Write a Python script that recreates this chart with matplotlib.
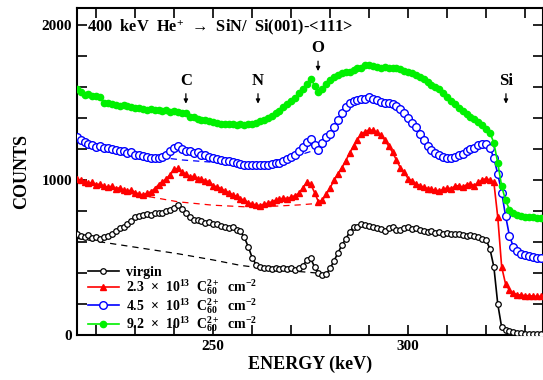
import numpy as np
import matplotlib
matplotlib.use("Agg")
from matplotlib import pyplot as plt
from matplotlib.ticker import MultipleLocator, FixedLocator

plt.rcParams['font.family'] = ['Liberation Serif', 'DejaVu Sans']
plt.rcParams['font.weight'] = 'bold'
plt.rcParams['mathtext.fontset'] = 'custom'
plt.rcParams['mathtext.rm'] = 'Liberation Serif:bold'
plt.rcParams['mathtext.it'] = 'Liberation Serif:bold'
plt.rcParams['mathtext.bf'] = 'Liberation Serif:bold'

# energy channels, keV
energy = np.arange(215, 335)

virgin = [650, 640, 630, 645, 625, 635, 620, 630, 640, 655,
          670, 690, 700, 720, 735, 760, 770, 775, 780, 775,
          785, 790, 785, 800, 810, 820, 840, 815, 790, 760,
          745, 740, 735, 725, 730, 720, 715, 705, 700, 690,
          700, 680, 670, 630, 570, 500, 455, 440, 430, 435,
          425, 430, 428, 435, 425, 430, 420, 430, 445, 485,
          495, 440, 400, 390, 395, 430, 480, 530, 580, 620,
          665, 700, 695, 715, 710, 705, 700, 690, 685, 670,
          690, 700, 680, 675, 690, 700, 685, 690, 680, 670,
          665, 670, 660, 665, 650, 660, 655, 650, 655, 645,
          640, 645, 640, 630, 620, 615, 555, 440, 200, 50,
          35, 25, 20, 15, 12, 10, 8, 7, 6, 5]

dose_23 = [1005, 1000, 990, 980, 985, 970, 975, 960, 955, 960,
           945, 950, 935, 930, 935, 920, 910, 905, 915, 925,
           945, 970, 990, 1010, 1035, 1070, 1075, 1050, 1040, 1020,
           1025, 1010, 1005, 995, 990, 965, 955, 945, 930, 920,
           905, 895, 880, 870, 855, 845, 840, 835, 845, 850,
           860, 870, 875, 885, 880, 890, 900, 915, 950, 985,
           975, 920, 860, 870, 910, 950, 1000, 1040, 1080, 1125,
           1175, 1220, 1260, 1300, 1310, 1325, 1320, 1310, 1290, 1260,
           1220, 1180, 1130, 1080, 1050, 1010, 995, 975, 965, 955,
           945, 940, 935, 930, 940, 950, 945, 960, 965, 955,
           970, 975, 965, 985, 1000, 1010, 1000, 985, 760, 440,
           330, 290, 270, 262, 258, 255, 255, 252, 250, 250]

dose_45 = [1280, 1260, 1245, 1230, 1225, 1215, 1220, 1205, 1210, 1200,
           1195, 1190, 1185, 1175, 1180, 1165, 1160, 1155, 1150, 1145,
           1140, 1140, 1150, 1165, 1185, 1210, 1220, 1200, 1185, 1190,
           1175, 1180, 1165, 1160, 1150, 1145, 1135, 1130, 1125, 1120,
           1115, 1110, 1105, 1100, 1100, 1095, 1095, 1095, 1100, 1100,
           1105, 1110, 1110, 1120, 1135, 1150, 1165, 1190, 1215, 1245,
           1265, 1225, 1195, 1240, 1275, 1300, 1345, 1390, 1430, 1470,
           1500, 1510, 1515, 1520, 1525, 1535, 1525, 1515, 1505, 1500,
           1495, 1490, 1480, 1460, 1430, 1400, 1370, 1340, 1300, 1260,
           1220, 1195, 1175, 1160, 1150, 1145, 1140, 1150, 1160, 1170,
           1185, 1200, 1210, 1225, 1235, 1230, 1210, 1140, 1040, 920,
           770, 640, 570, 545, 525, 515, 510, 505, 500, 500]

dose_92 = [1585, 1570, 1550, 1555, 1545, 1540, 1535, 1500, 1495, 1490,
           1485, 1480, 1485, 1475, 1470, 1465, 1465, 1460, 1455, 1460,
           1450, 1450, 1445, 1450, 1440, 1445, 1440, 1435, 1430, 1410,
           1405, 1395, 1390, 1385, 1380, 1375, 1370, 1365, 1365, 1360,
           1360, 1355, 1360, 1355, 1360, 1365, 1370, 1380, 1390, 1400,
           1415, 1430, 1445, 1470, 1490, 1510, 1530, 1560, 1590, 1620,
           1655, 1610, 1570, 1590, 1620, 1645, 1665, 1680, 1690, 1695,
           1700, 1710, 1720, 1725, 1740, 1745, 1735, 1730, 1725, 1730,
           1720, 1725, 1720, 1715, 1705, 1695, 1690, 1680, 1665, 1650,
           1630, 1615, 1600, 1585, 1560, 1535, 1510, 1490, 1465, 1445,
           1425, 1410, 1395, 1375, 1355, 1330, 1305, 1240, 1110, 960,
           870, 810, 785, 775, 770, 765, 762, 760, 758, 756]

# background (dashed) estimates under the C / N / O region
bg_black_e = [215, 228, 241, 250, 257, 265, 277]
bg_black_c = [625, 575, 525, 485, 450, 425, 400]
bg_red_e = [225, 232, 241, 250, 258, 266, 272, 277]
bg_red_c = [930, 900, 860, 838, 828, 832, 840, 850]
bg_blue_e = [222, 232, 242, 250, 258, 265, 270, 277]
bg_blue_c = [1205, 1160, 1130, 1115, 1108, 1120, 1145, 1200]

labels = ['virgin',
          r'2.3  $\times$  10$^{13}$  C$_{60}^{2+}$  cm$^{-2}$',
          r'4.5  $\times$  10$^{13}$  C$_{60}^{2+}$  cm$^{-2}$',
          r'9.2  $\times$  10$^{13}$  C$_{60}^{2+}$  cm$^{-2}$']

elements = ['C', 'N', 'O', 'Si']
elem_e = [243.0, 261.5, 276.9, 325.1]
elem_y = [1590, 1590, 1800, 1590]

green = '#00f000'

fig = plt.figure(figsize=(5.43, 3.80), dpi=100)
ax = fig.add_axes([0.142, 0.118, 0.858, 0.861])

ax.plot(bg_black_e, bg_black_c, '--', color='k', lw=0.9, dashes=(5, 4))
ax.plot(bg_red_e, bg_red_c, '--', color='r', lw=0.9, dashes=(5, 4))
ax.plot(bg_blue_e, bg_blue_c, '--', color='b', lw=0.9, dashes=(5, 4))

ax.plot(energy, virgin, '-o', color='k', lw=1.2, ms=4, mfc='white', mec='k', mew=0.9,
        label=labels[0], zorder=3)
ax.plot(energy, dose_23, '-^', color='r', lw=1.2, ms=4, mfc='r', mec='r',
        label=labels[1], zorder=3)
ax.plot(energy, dose_45, '-o', color='b', lw=1.2, ms=5.5, mfc='white', mec='b', mew=1.0,
        label=labels[2], zorder=3)
ax.plot(energy, dose_92, '-o', color=green, lw=1.2, ms=4.5, mfc=green, mec=green,
        label=labels[3], zorder=3)

for name, e, y in zip(elements, elem_e, elem_y):
    ax.annotate('', xy=(e, y - 115), xytext=(e, y - 15),
                arrowprops=dict(arrowstyle='-|>', color='k', lw=0.9, mutation_scale=6))
    ax.text(e, y, name, ha='center', va='bottom', fontsize=12, fontweight='bold')

ax.text(0.022, 0.942, '400  keV  He$^{+}$  \u2192  SiN/  Si(001)-<111>',
        transform=ax.transAxes, fontsize=11.8, fontweight='bold', va='center')

ax.set_xlim(215.1, 334.6)
ax.set_ylim(0, 2110)
ax.xaxis.set_major_locator(FixedLocator([250, 300]))
ax.xaxis.set_minor_locator(MultipleLocator(10))
ax.yaxis.set_major_locator(FixedLocator([0, 1000, 2000]))
ax.yaxis.set_minor_locator(MultipleLocator(200))
ax.tick_params(which='both', direction='in', top=True, right=True, width=1.2)
ax.tick_params(which='major', length=7, labelsize=11)
ax.tick_params(which='minor', length=7)
for lab in ax.get_xticklabels() + ax.get_yticklabels():
    lab.set_fontweight('bold')
for sp in ax.spines.values():
    sp.set_linewidth(1.5)

ax.set_xlabel('ENERGY (keV)', fontsize=13, fontweight='bold', labelpad=2)
ax.set_ylabel('COUNTS', fontsize=13, fontweight='bold', labelpad=8)

ax.legend(loc='lower left', frameon=False, fontsize=10, handlelength=2.2,
          handletextpad=0.5, labelspacing=-0.1, borderpad=0.3,
          bbox_to_anchor=(0.0, -0.03))

plt.savefig('out.png', dpi=100)
